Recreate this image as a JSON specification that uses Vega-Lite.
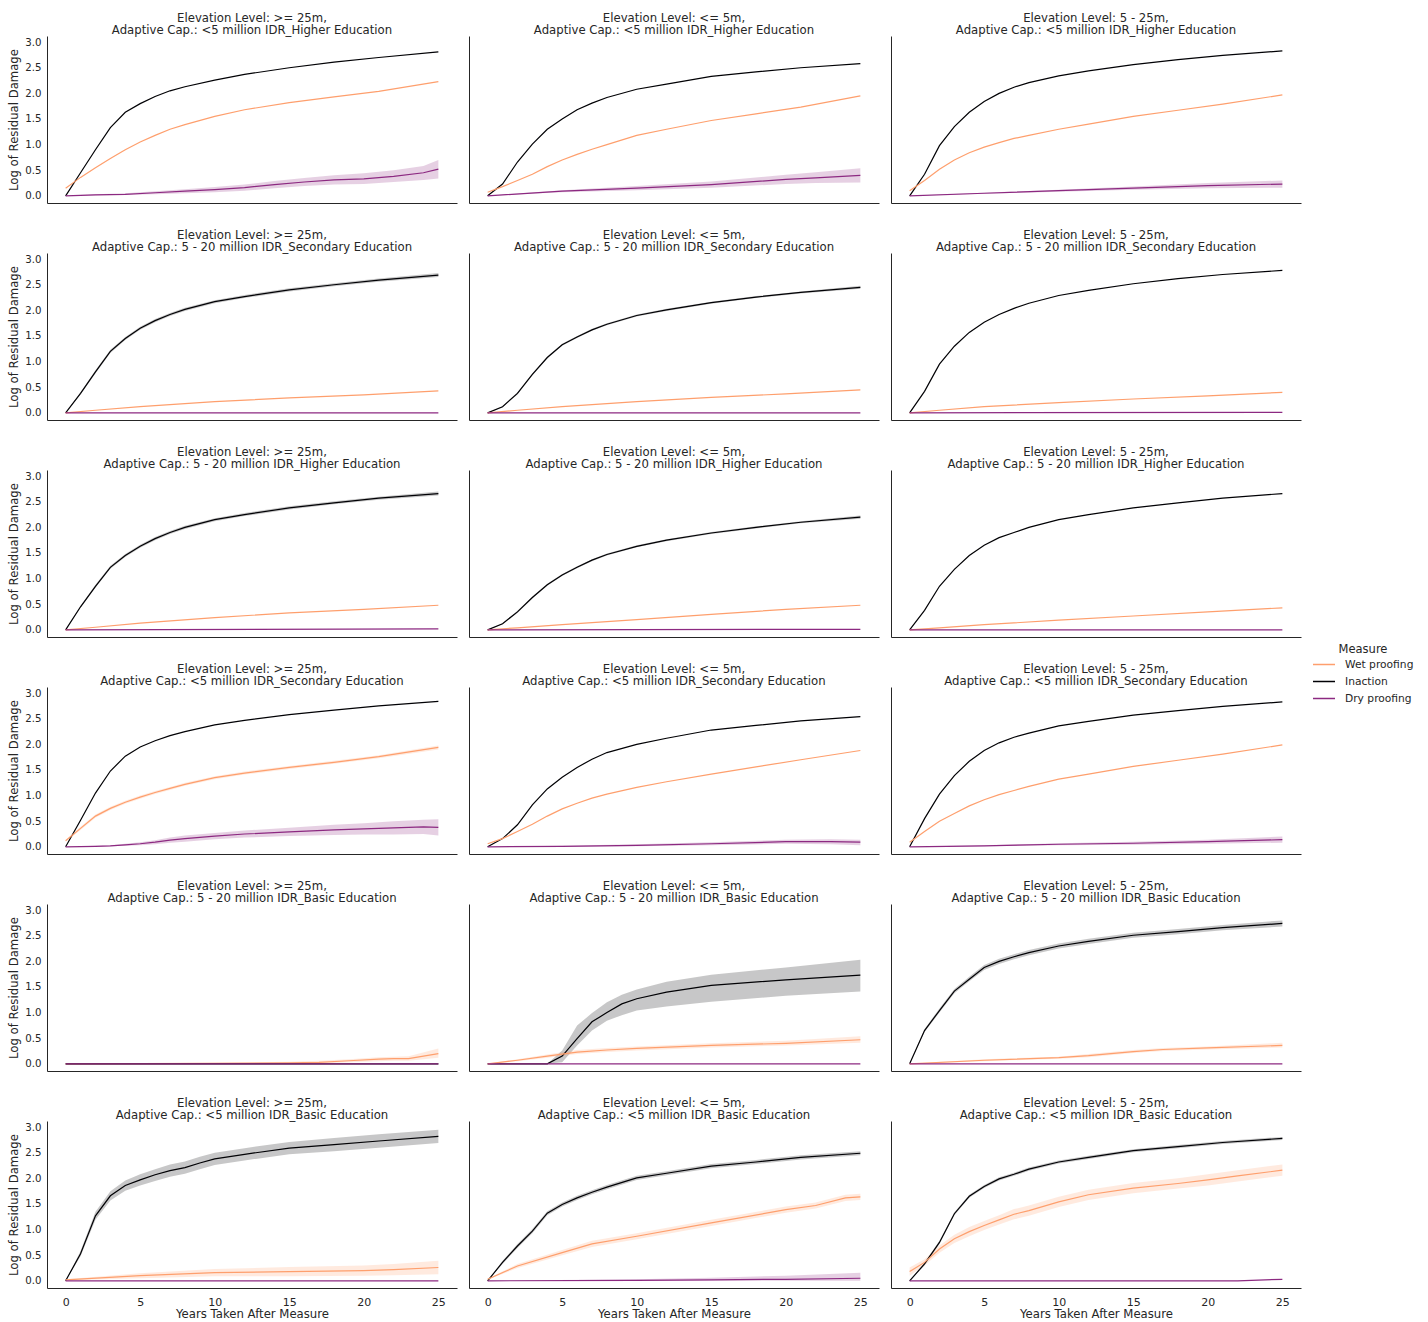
{
"$schema": "https://vega.github.io/schema/vega-lite/v6.json",
"padding": {"left": 8, "top": 12, "right": 5, "bottom": 5},
"background": "white",
"datasets": {"d": [
{"p":0,"m":"I","x":0,"y":0},{"p":0,"m":"I","x":1,"y":0.45},{"p":0,"m":"I","x":2,"y":0.9},{"p":0,"m":"I","x":3,"y":1.33},{"p":0,"m":"I","x":4,"y":1.63},{"p":0,"m":"I","x":5,"y":1.8},{"p":0,"m":"I","x":6,"y":1.94},{"p":0,"m":"I","x":7,"y":2.05},{"p":0,"m":"I","x":8,"y":2.13},{"p":0,"m":"I","x":10,"y":2.26},{"p":0,"m":"I","x":12,"y":2.37},{"p":0,"m":"I","x":15,"y":2.5},{"p":0,"m":"I","x":18,"y":2.61},{"p":0,"m":"I","x":21,"y":2.7},{"p":0,"m":"I","x":25,"y":2.81},
{"p":0,"m":"W","x":0,"y":0.15},{"p":0,"m":"W","x":1,"y":0.36},{"p":0,"m":"W","x":2,"y":0.55},{"p":0,"m":"W","x":3,"y":0.73},{"p":0,"m":"W","x":4,"y":0.9},{"p":0,"m":"W","x":5,"y":1.05},{"p":0,"m":"W","x":6,"y":1.18},{"p":0,"m":"W","x":7,"y":1.3},{"p":0,"m":"W","x":8,"y":1.39},{"p":0,"m":"W","x":10,"y":1.55},{"p":0,"m":"W","x":12,"y":1.68},{"p":0,"m":"W","x":15,"y":1.82},{"p":0,"m":"W","x":18,"y":1.93},{"p":0,"m":"W","x":21,"y":2.04},{"p":0,"m":"W","x":25,"y":2.23},
{"p":0,"m":"D","x":0,"y":0,"lo":0,"hi":0},{"p":0,"m":"D","x":2,"y":0.02,"lo":0.01,"hi":0.03},{"p":0,"m":"D","x":4,"y":0.03,"lo":0.02,"hi":0.05},{"p":0,"m":"D","x":6,"y":0.06,"lo":0.03,"hi":0.09},{"p":0,"m":"D","x":8,"y":0.09,"lo":0.05,"hi":0.13},{"p":0,"m":"D","x":10,"y":0.12,"lo":0.07,"hi":0.17},{"p":0,"m":"D","x":12,"y":0.16,"lo":0.1,"hi":0.22},{"p":0,"m":"D","x":14,"y":0.22,"lo":0.15,"hi":0.29},{"p":0,"m":"D","x":16,"y":0.27,"lo":0.19,"hi":0.35},{"p":0,"m":"D","x":18,"y":0.31,"lo":0.22,"hi":0.4},{"p":0,"m":"D","x":20,"y":0.33,"lo":0.23,"hi":0.44},{"p":0,"m":"D","x":22,"y":0.38,"lo":0.27,"hi":0.5},{"p":0,"m":"D","x":24,"y":0.45,"lo":0.31,"hi":0.58},{"p":0,"m":"D","x":25,"y":0.52,"lo":0.34,"hi":0.7},

{"p":1,"m":"I","x":0,"y":0},{"p":1,"m":"I","x":1,"y":0.23},{"p":1,"m":"I","x":2,"y":0.66},{"p":1,"m":"I","x":3,"y":1.01},{"p":1,"m":"I","x":4,"y":1.3},{"p":1,"m":"I","x":5,"y":1.5},{"p":1,"m":"I","x":6,"y":1.68},{"p":1,"m":"I","x":7,"y":1.81},{"p":1,"m":"I","x":8,"y":1.92},{"p":1,"m":"I","x":10,"y":2.08},{"p":1,"m":"I","x":12,"y":2.18},{"p":1,"m":"I","x":15,"y":2.33},{"p":1,"m":"I","x":18,"y":2.42},{"p":1,"m":"I","x":21,"y":2.5},{"p":1,"m":"I","x":25,"y":2.58},
{"p":1,"m":"W","x":0,"y":0.07},{"p":1,"m":"W","x":1,"y":0.18},{"p":1,"m":"W","x":2,"y":0.3},{"p":1,"m":"W","x":3,"y":0.42},{"p":1,"m":"W","x":4,"y":0.57},{"p":1,"m":"W","x":5,"y":0.7},{"p":1,"m":"W","x":6,"y":0.81},{"p":1,"m":"W","x":7,"y":0.91},{"p":1,"m":"W","x":8,"y":1.0},{"p":1,"m":"W","x":10,"y":1.18},{"p":1,"m":"W","x":12,"y":1.3},{"p":1,"m":"W","x":15,"y":1.47},{"p":1,"m":"W","x":18,"y":1.6},{"p":1,"m":"W","x":21,"y":1.73},{"p":1,"m":"W","x":25,"y":1.95},
{"p":1,"m":"D","x":0,"y":0,"lo":0,"hi":0},{"p":1,"m":"D","x":5,"y":0.09,"lo":0.07,"hi":0.11},{"p":1,"m":"D","x":10,"y":0.15,"lo":0.11,"hi":0.19},{"p":1,"m":"D","x":15,"y":0.22,"lo":0.16,"hi":0.28},{"p":1,"m":"D","x":20,"y":0.32,"lo":0.23,"hi":0.41},{"p":1,"m":"D","x":22,"y":0.35,"lo":0.25,"hi":0.46},{"p":1,"m":"D","x":25,"y":0.4,"lo":0.26,"hi":0.54},

{"p":2,"m":"I","x":0,"y":0},{"p":2,"m":"I","x":1,"y":0.42},{"p":2,"m":"I","x":2,"y":0.98},{"p":2,"m":"I","x":3,"y":1.35},{"p":2,"m":"I","x":4,"y":1.63},{"p":2,"m":"I","x":5,"y":1.84},{"p":2,"m":"I","x":6,"y":2.0},{"p":2,"m":"I","x":7,"y":2.12},{"p":2,"m":"I","x":8,"y":2.21},{"p":2,"m":"I","x":10,"y":2.34},{"p":2,"m":"I","x":12,"y":2.44},{"p":2,"m":"I","x":15,"y":2.56},{"p":2,"m":"I","x":18,"y":2.66},{"p":2,"m":"I","x":21,"y":2.74},{"p":2,"m":"I","x":25,"y":2.83},
{"p":2,"m":"W","x":0,"y":0.1},{"p":2,"m":"W","x":1,"y":0.3},{"p":2,"m":"W","x":2,"y":0.52},{"p":2,"m":"W","x":3,"y":0.7},{"p":2,"m":"W","x":4,"y":0.84},{"p":2,"m":"W","x":5,"y":0.95},{"p":2,"m":"W","x":6,"y":1.04},{"p":2,"m":"W","x":7,"y":1.12},{"p":2,"m":"W","x":8,"y":1.18},{"p":2,"m":"W","x":10,"y":1.3},{"p":2,"m":"W","x":12,"y":1.4},{"p":2,"m":"W","x":15,"y":1.55},{"p":2,"m":"W","x":18,"y":1.67},{"p":2,"m":"W","x":21,"y":1.79},{"p":2,"m":"W","x":25,"y":1.97},
{"p":2,"m":"D","x":0,"y":0,"lo":0,"hi":0},{"p":2,"m":"D","x":5,"y":0.05,"lo":0.04,"hi":0.06},{"p":2,"m":"D","x":10,"y":0.1,"lo":0.08,"hi":0.12},{"p":2,"m":"D","x":15,"y":0.15,"lo":0.12,"hi":0.18},{"p":2,"m":"D","x":20,"y":0.2,"lo":0.15,"hi":0.25},{"p":2,"m":"D","x":25,"y":0.23,"lo":0.16,"hi":0.3},

{"p":3,"m":"I","x":0,"y":0,"lo":0,"hi":0},{"p":3,"m":"I","x":1,"y":0.38,"lo":0.36,"hi":0.4},{"p":3,"m":"I","x":2,"y":0.8,"lo":0.77,"hi":0.83},{"p":3,"m":"I","x":3,"y":1.2,"lo":1.17,"hi":1.23},{"p":3,"m":"I","x":4,"y":1.45,"lo":1.42,"hi":1.48},{"p":3,"m":"I","x":5,"y":1.65,"lo":1.62,"hi":1.68},{"p":3,"m":"I","x":6,"y":1.8,"lo":1.77,"hi":1.83},{"p":3,"m":"I","x":7,"y":1.92,"lo":1.89,"hi":1.95},{"p":3,"m":"I","x":8,"y":2.02,"lo":1.99,"hi":2.05},{"p":3,"m":"I","x":10,"y":2.17,"lo":2.14,"hi":2.2},{"p":3,"m":"I","x":12,"y":2.27,"lo":2.24,"hi":2.3},{"p":3,"m":"I","x":15,"y":2.4,"lo":2.37,"hi":2.43},{"p":3,"m":"I","x":18,"y":2.5,"lo":2.47,"hi":2.53},{"p":3,"m":"I","x":21,"y":2.59,"lo":2.56,"hi":2.62},{"p":3,"m":"I","x":25,"y":2.69,"lo":2.65,"hi":2.73},
{"p":3,"m":"W","x":0,"y":0},{"p":3,"m":"W","x":2,"y":0.05},{"p":3,"m":"W","x":5,"y":0.12},{"p":3,"m":"W","x":10,"y":0.22},{"p":3,"m":"W","x":15,"y":0.29},{"p":3,"m":"W","x":20,"y":0.35},{"p":3,"m":"W","x":25,"y":0.43},
{"p":3,"m":"D","x":0,"y":0},{"p":3,"m":"D","x":25,"y":0},

{"p":4,"m":"I","x":0,"y":0,"lo":0,"hi":0},{"p":4,"m":"I","x":1,"y":0.12,"lo":0.11,"hi":0.13},{"p":4,"m":"I","x":2,"y":0.38,"lo":0.36,"hi":0.4},{"p":4,"m":"I","x":3,"y":0.75,"lo":0.73,"hi":0.77},{"p":4,"m":"I","x":4,"y":1.08,"lo":1.06,"hi":1.1},{"p":4,"m":"I","x":5,"y":1.33,"lo":1.31,"hi":1.35},{"p":4,"m":"I","x":6,"y":1.48,"lo":1.46,"hi":1.5},{"p":4,"m":"I","x":7,"y":1.62,"lo":1.6,"hi":1.64},{"p":4,"m":"I","x":8,"y":1.73,"lo":1.71,"hi":1.75},{"p":4,"m":"I","x":10,"y":1.9,"lo":1.88,"hi":1.92},{"p":4,"m":"I","x":12,"y":2.01,"lo":1.99,"hi":2.03},{"p":4,"m":"I","x":15,"y":2.15,"lo":2.13,"hi":2.17},{"p":4,"m":"I","x":18,"y":2.26,"lo":2.24,"hi":2.28},{"p":4,"m":"I","x":21,"y":2.35,"lo":2.33,"hi":2.37},{"p":4,"m":"I","x":25,"y":2.45,"lo":2.42,"hi":2.48},
{"p":4,"m":"W","x":0,"y":0},{"p":4,"m":"W","x":2,"y":0.05},{"p":4,"m":"W","x":5,"y":0.12},{"p":4,"m":"W","x":10,"y":0.22},{"p":4,"m":"W","x":15,"y":0.3},{"p":4,"m":"W","x":20,"y":0.37},{"p":4,"m":"W","x":25,"y":0.45},
{"p":4,"m":"D","x":0,"y":0},{"p":4,"m":"D","x":25,"y":0},

{"p":5,"m":"I","x":0,"y":0},{"p":5,"m":"I","x":1,"y":0.42},{"p":5,"m":"I","x":2,"y":0.95},{"p":5,"m":"I","x":3,"y":1.3},{"p":5,"m":"I","x":4,"y":1.57},{"p":5,"m":"I","x":5,"y":1.77},{"p":5,"m":"I","x":6,"y":1.92},{"p":5,"m":"I","x":7,"y":2.04},{"p":5,"m":"I","x":8,"y":2.14},{"p":5,"m":"I","x":10,"y":2.29},{"p":5,"m":"I","x":12,"y":2.39},{"p":5,"m":"I","x":15,"y":2.52},{"p":5,"m":"I","x":18,"y":2.62},{"p":5,"m":"I","x":21,"y":2.7},{"p":5,"m":"I","x":25,"y":2.78},
{"p":5,"m":"W","x":0,"y":0},{"p":5,"m":"W","x":2,"y":0.05},{"p":5,"m":"W","x":5,"y":0.12},{"p":5,"m":"W","x":10,"y":0.2},{"p":5,"m":"W","x":15,"y":0.27},{"p":5,"m":"W","x":20,"y":0.33},{"p":5,"m":"W","x":25,"y":0.4},
{"p":5,"m":"D","x":0,"y":0},{"p":5,"m":"D","x":25,"y":0.01},

{"p":6,"m":"I","x":0,"y":0,"lo":0,"hi":0},{"p":6,"m":"I","x":1,"y":0.45,"lo":0.43,"hi":0.47},{"p":6,"m":"I","x":2,"y":0.85,"lo":0.82,"hi":0.88},{"p":6,"m":"I","x":3,"y":1.22,"lo":1.19,"hi":1.25},{"p":6,"m":"I","x":4,"y":1.45,"lo":1.42,"hi":1.48},{"p":6,"m":"I","x":5,"y":1.63,"lo":1.6,"hi":1.66},{"p":6,"m":"I","x":6,"y":1.78,"lo":1.75,"hi":1.81},{"p":6,"m":"I","x":7,"y":1.9,"lo":1.87,"hi":1.93},{"p":6,"m":"I","x":8,"y":2.0,"lo":1.97,"hi":2.03},{"p":6,"m":"I","x":10,"y":2.15,"lo":2.12,"hi":2.18},{"p":6,"m":"I","x":12,"y":2.25,"lo":2.22,"hi":2.28},{"p":6,"m":"I","x":15,"y":2.38,"lo":2.35,"hi":2.41},{"p":6,"m":"I","x":18,"y":2.48,"lo":2.45,"hi":2.51},{"p":6,"m":"I","x":21,"y":2.57,"lo":2.54,"hi":2.6},{"p":6,"m":"I","x":25,"y":2.66,"lo":2.62,"hi":2.7},
{"p":6,"m":"W","x":0,"y":0},{"p":6,"m":"W","x":2,"y":0.05},{"p":6,"m":"W","x":5,"y":0.13},{"p":6,"m":"W","x":10,"y":0.24},{"p":6,"m":"W","x":15,"y":0.33},{"p":6,"m":"W","x":20,"y":0.4},{"p":6,"m":"W","x":25,"y":0.48},
{"p":6,"m":"D","x":0,"y":0},{"p":6,"m":"D","x":25,"y":0.02},

{"p":7,"m":"I","x":0,"y":0,"lo":0,"hi":0},{"p":7,"m":"I","x":1,"y":0.12,"lo":0.11,"hi":0.13},{"p":7,"m":"I","x":2,"y":0.35,"lo":0.33,"hi":0.37},{"p":7,"m":"I","x":3,"y":0.63,"lo":0.61,"hi":0.65},{"p":7,"m":"I","x":4,"y":0.88,"lo":0.86,"hi":0.9},{"p":7,"m":"I","x":5,"y":1.07,"lo":1.05,"hi":1.09},{"p":7,"m":"I","x":6,"y":1.22,"lo":1.2,"hi":1.24},{"p":7,"m":"I","x":7,"y":1.36,"lo":1.34,"hi":1.38},{"p":7,"m":"I","x":8,"y":1.47,"lo":1.45,"hi":1.49},{"p":7,"m":"I","x":10,"y":1.63,"lo":1.61,"hi":1.65},{"p":7,"m":"I","x":12,"y":1.75,"lo":1.73,"hi":1.77},{"p":7,"m":"I","x":15,"y":1.89,"lo":1.87,"hi":1.91},{"p":7,"m":"I","x":18,"y":2.0,"lo":1.98,"hi":2.02},{"p":7,"m":"I","x":21,"y":2.1,"lo":2.08,"hi":2.12},{"p":7,"m":"I","x":25,"y":2.2,"lo":2.17,"hi":2.23},
{"p":7,"m":"W","x":0,"y":0},{"p":7,"m":"W","x":2,"y":0.04},{"p":7,"m":"W","x":5,"y":0.1},{"p":7,"m":"W","x":10,"y":0.2},{"p":7,"m":"W","x":15,"y":0.3},{"p":7,"m":"W","x":20,"y":0.4},{"p":7,"m":"W","x":25,"y":0.48},
{"p":7,"m":"D","x":0,"y":0},{"p":7,"m":"D","x":25,"y":0.01},

{"p":8,"m":"I","x":0,"y":0},{"p":8,"m":"I","x":1,"y":0.38},{"p":8,"m":"I","x":2,"y":0.85},{"p":8,"m":"I","x":3,"y":1.18},{"p":8,"m":"I","x":4,"y":1.45},{"p":8,"m":"I","x":5,"y":1.65},{"p":8,"m":"I","x":6,"y":1.8},{"p":8,"m":"I","x":7,"y":1.9},{"p":8,"m":"I","x":8,"y":2.0},{"p":8,"m":"I","x":10,"y":2.15},{"p":8,"m":"I","x":12,"y":2.25},{"p":8,"m":"I","x":15,"y":2.38},{"p":8,"m":"I","x":18,"y":2.48},{"p":8,"m":"I","x":21,"y":2.57},{"p":8,"m":"I","x":25,"y":2.66},
{"p":8,"m":"W","x":0,"y":0},{"p":8,"m":"W","x":2,"y":0.04},{"p":8,"m":"W","x":5,"y":0.1},{"p":8,"m":"W","x":10,"y":0.19},{"p":8,"m":"W","x":15,"y":0.27},{"p":8,"m":"W","x":20,"y":0.35},{"p":8,"m":"W","x":25,"y":0.43},
{"p":8,"m":"D","x":0,"y":0},{"p":8,"m":"D","x":25,"y":0},

{"p":9,"m":"I","x":0,"y":0},{"p":9,"m":"I","x":1,"y":0.52},{"p":9,"m":"I","x":2,"y":1.05},{"p":9,"m":"I","x":3,"y":1.48},{"p":9,"m":"I","x":4,"y":1.77},{"p":9,"m":"I","x":5,"y":1.95},{"p":9,"m":"I","x":6,"y":2.07},{"p":9,"m":"I","x":7,"y":2.17},{"p":9,"m":"I","x":8,"y":2.25},{"p":9,"m":"I","x":10,"y":2.38},{"p":9,"m":"I","x":12,"y":2.47},{"p":9,"m":"I","x":15,"y":2.58},{"p":9,"m":"I","x":18,"y":2.67},{"p":9,"m":"I","x":21,"y":2.75},{"p":9,"m":"I","x":25,"y":2.84},
{"p":9,"m":"W","x":0,"y":0.12,"lo":0.1,"hi":0.14},{"p":9,"m":"W","x":1,"y":0.36,"lo":0.33,"hi":0.39},{"p":9,"m":"W","x":2,"y":0.6,"lo":0.57,"hi":0.63},{"p":9,"m":"W","x":3,"y":0.75,"lo":0.72,"hi":0.78},{"p":9,"m":"W","x":4,"y":0.87,"lo":0.84,"hi":0.9},{"p":9,"m":"W","x":5,"y":0.97,"lo":0.94,"hi":1.0},{"p":9,"m":"W","x":6,"y":1.06,"lo":1.03,"hi":1.09},{"p":9,"m":"W","x":7,"y":1.14,"lo":1.11,"hi":1.17},{"p":9,"m":"W","x":8,"y":1.22,"lo":1.19,"hi":1.25},{"p":9,"m":"W","x":10,"y":1.35,"lo":1.32,"hi":1.38},{"p":9,"m":"W","x":12,"y":1.44,"lo":1.41,"hi":1.47},{"p":9,"m":"W","x":15,"y":1.55,"lo":1.52,"hi":1.58},{"p":9,"m":"W","x":18,"y":1.65,"lo":1.62,"hi":1.68},{"p":9,"m":"W","x":21,"y":1.76,"lo":1.73,"hi":1.79},{"p":9,"m":"W","x":25,"y":1.94,"lo":1.9,"hi":1.98},
{"p":9,"m":"D","x":0,"y":0,"lo":0,"hi":0},{"p":9,"m":"D","x":2,"y":0.01,"lo":0,"hi":0.02},{"p":9,"m":"D","x":3,"y":0.02,"lo":0.01,"hi":0.03},{"p":9,"m":"D","x":4,"y":0.04,"lo":0.02,"hi":0.06},{"p":9,"m":"D","x":5,"y":0.06,"lo":0.03,"hi":0.09},{"p":9,"m":"D","x":6,"y":0.09,"lo":0.05,"hi":0.13},{"p":9,"m":"D","x":7,"y":0.13,"lo":0.08,"hi":0.18},{"p":9,"m":"D","x":8,"y":0.16,"lo":0.1,"hi":0.22},{"p":9,"m":"D","x":10,"y":0.21,"lo":0.15,"hi":0.27},{"p":9,"m":"D","x":12,"y":0.25,"lo":0.18,"hi":0.32},{"p":9,"m":"D","x":15,"y":0.29,"lo":0.21,"hi":0.37},{"p":9,"m":"D","x":18,"y":0.33,"lo":0.23,"hi":0.43},{"p":9,"m":"D","x":20,"y":0.35,"lo":0.24,"hi":0.46},{"p":9,"m":"D","x":22,"y":0.37,"lo":0.24,"hi":0.5},{"p":9,"m":"D","x":24,"y":0.39,"lo":0.25,"hi":0.53},{"p":9,"m":"D","x":25,"y":0.38,"lo":0.22,"hi":0.54},

{"p":10,"m":"I","x":0,"y":0},{"p":10,"m":"I","x":1,"y":0.16},{"p":10,"m":"I","x":2,"y":0.43},{"p":10,"m":"I","x":3,"y":0.82},{"p":10,"m":"I","x":4,"y":1.13},{"p":10,"m":"I","x":5,"y":1.36},{"p":10,"m":"I","x":6,"y":1.55},{"p":10,"m":"I","x":7,"y":1.71},{"p":10,"m":"I","x":8,"y":1.84},{"p":10,"m":"I","x":10,"y":2.0},{"p":10,"m":"I","x":12,"y":2.12},{"p":10,"m":"I","x":15,"y":2.28},{"p":10,"m":"I","x":18,"y":2.37},{"p":10,"m":"I","x":21,"y":2.46},{"p":10,"m":"I","x":25,"y":2.54},
{"p":10,"m":"W","x":0,"y":0.06},{"p":10,"m":"W","x":1,"y":0.16},{"p":10,"m":"W","x":2,"y":0.3},{"p":10,"m":"W","x":3,"y":0.44},{"p":10,"m":"W","x":4,"y":0.6},{"p":10,"m":"W","x":5,"y":0.74},{"p":10,"m":"W","x":6,"y":0.85},{"p":10,"m":"W","x":7,"y":0.95},{"p":10,"m":"W","x":8,"y":1.03},{"p":10,"m":"W","x":10,"y":1.16},{"p":10,"m":"W","x":12,"y":1.27},{"p":10,"m":"W","x":15,"y":1.42},{"p":10,"m":"W","x":18,"y":1.56},{"p":10,"m":"W","x":21,"y":1.7},{"p":10,"m":"W","x":25,"y":1.88},
{"p":10,"m":"D","x":0,"y":0,"lo":0,"hi":0},{"p":10,"m":"D","x":5,"y":0.01,"lo":0,"hi":0.02},{"p":10,"m":"D","x":10,"y":0.03,"lo":0.01,"hi":0.05},{"p":10,"m":"D","x":15,"y":0.06,"lo":0.03,"hi":0.09},{"p":10,"m":"D","x":20,"y":0.1,"lo":0.06,"hi":0.14},{"p":10,"m":"D","x":23,"y":0.1,"lo":0.05,"hi":0.15},{"p":10,"m":"D","x":25,"y":0.09,"lo":0.03,"hi":0.14},

{"p":11,"m":"I","x":0,"y":0},{"p":11,"m":"I","x":1,"y":0.55},{"p":11,"m":"I","x":2,"y":1.03},{"p":11,"m":"I","x":3,"y":1.39},{"p":11,"m":"I","x":4,"y":1.67},{"p":11,"m":"I","x":5,"y":1.88},{"p":11,"m":"I","x":6,"y":2.03},{"p":11,"m":"I","x":7,"y":2.14},{"p":11,"m":"I","x":8,"y":2.22},{"p":11,"m":"I","x":10,"y":2.36},{"p":11,"m":"I","x":12,"y":2.45},{"p":11,"m":"I","x":15,"y":2.57},{"p":11,"m":"I","x":18,"y":2.66},{"p":11,"m":"I","x":21,"y":2.74},{"p":11,"m":"I","x":25,"y":2.83},
{"p":11,"m":"W","x":0,"y":0.09},{"p":11,"m":"W","x":1,"y":0.3},{"p":11,"m":"W","x":2,"y":0.5},{"p":11,"m":"W","x":3,"y":0.65},{"p":11,"m":"W","x":4,"y":0.8},{"p":11,"m":"W","x":5,"y":0.92},{"p":11,"m":"W","x":6,"y":1.02},{"p":11,"m":"W","x":7,"y":1.1},{"p":11,"m":"W","x":8,"y":1.18},{"p":11,"m":"W","x":10,"y":1.32},{"p":11,"m":"W","x":12,"y":1.42},{"p":11,"m":"W","x":15,"y":1.57},{"p":11,"m":"W","x":18,"y":1.69},{"p":11,"m":"W","x":21,"y":1.81},{"p":11,"m":"W","x":25,"y":1.99},
{"p":11,"m":"D","x":0,"y":0,"lo":0,"hi":0},{"p":11,"m":"D","x":5,"y":0.02,"lo":0.01,"hi":0.03},{"p":11,"m":"D","x":10,"y":0.05,"lo":0.03,"hi":0.07},{"p":11,"m":"D","x":15,"y":0.07,"lo":0.04,"hi":0.1},{"p":11,"m":"D","x":20,"y":0.1,"lo":0.06,"hi":0.14},{"p":11,"m":"D","x":25,"y":0.14,"lo":0.08,"hi":0.2},

{"p":12,"m":"W","x":0,"y":0,"lo":0,"hi":0},{"p":12,"m":"W","x":10,"y":0.01,"lo":0,"hi":0.02},{"p":12,"m":"W","x":15,"y":0.02,"lo":0,"hi":0.04},{"p":12,"m":"W","x":17,"y":0.03,"lo":0.01,"hi":0.06},{"p":12,"m":"W","x":19,"y":0.06,"lo":0.03,"hi":0.09},{"p":12,"m":"W","x":21,"y":0.09,"lo":0.05,"hi":0.13},{"p":12,"m":"W","x":22,"y":0.1,"lo":0.06,"hi":0.14},{"p":12,"m":"W","x":23,"y":0.1,"lo":0.06,"hi":0.15},{"p":12,"m":"W","x":25,"y":0.2,"lo":0.12,"hi":0.3},
{"p":12,"m":"I","x":0,"y":0},{"p":12,"m":"I","x":25,"y":0},
{"p":12,"m":"D","x":0,"y":0},{"p":12,"m":"D","x":25,"y":0},

{"p":13,"m":"I","x":0,"y":0,"lo":0,"hi":0},{"p":13,"m":"I","x":4,"y":0,"lo":0,"hi":0},{"p":13,"m":"I","x":5,"y":0.15,"lo":0.03,"hi":0.26},{"p":13,"m":"I","x":6,"y":0.49,"lo":0.36,"hi":0.75},{"p":13,"m":"I","x":7,"y":0.82,"lo":0.65,"hi":0.99},{"p":13,"m":"I","x":8,"y":1.0,"lo":0.84,"hi":1.2},{"p":13,"m":"I","x":9,"y":1.17,"lo":0.95,"hi":1.35},{"p":13,"m":"I","x":10,"y":1.27,"lo":1.04,"hi":1.45},{"p":13,"m":"I","x":12,"y":1.4,"lo":1.12,"hi":1.6},{"p":13,"m":"I","x":15,"y":1.53,"lo":1.21,"hi":1.74},{"p":13,"m":"I","x":20,"y":1.64,"lo":1.33,"hi":1.88},{"p":13,"m":"I","x":25,"y":1.73,"lo":1.41,"hi":2.03},
{"p":13,"m":"W","x":0,"y":0,"lo":0,"hi":0},{"p":13,"m":"W","x":2,"y":0.07,"lo":0.05,"hi":0.09},{"p":13,"m":"W","x":4,"y":0.15,"lo":0.12,"hi":0.18},{"p":13,"m":"W","x":6,"y":0.23,"lo":0.19,"hi":0.27},{"p":13,"m":"W","x":8,"y":0.27,"lo":0.23,"hi":0.31},{"p":13,"m":"W","x":10,"y":0.3,"lo":0.26,"hi":0.34},{"p":13,"m":"W","x":15,"y":0.36,"lo":0.32,"hi":0.4},{"p":13,"m":"W","x":20,"y":0.4,"lo":0.36,"hi":0.45},{"p":13,"m":"W","x":25,"y":0.47,"lo":0.41,"hi":0.54},
{"p":13,"m":"D","x":0,"y":0},{"p":13,"m":"D","x":25,"y":0},

{"p":14,"m":"I","x":0,"y":0,"lo":0,"hi":0},{"p":14,"m":"I","x":1,"y":0.65,"lo":0.62,"hi":0.68},{"p":14,"m":"I","x":2,"y":1.04,"lo":1.0,"hi":1.08},{"p":14,"m":"I","x":3,"y":1.42,"lo":1.38,"hi":1.46},{"p":14,"m":"I","x":4,"y":1.65,"lo":1.61,"hi":1.7},{"p":14,"m":"I","x":5,"y":1.88,"lo":1.83,"hi":1.93},{"p":14,"m":"I","x":6,"y":2.0,"lo":1.95,"hi":2.05},{"p":14,"m":"I","x":7,"y":2.09,"lo":2.04,"hi":2.14},{"p":14,"m":"I","x":8,"y":2.17,"lo":2.12,"hi":2.22},{"p":14,"m":"I","x":10,"y":2.3,"lo":2.25,"hi":2.35},{"p":14,"m":"I","x":12,"y":2.39,"lo":2.34,"hi":2.44},{"p":14,"m":"I","x":15,"y":2.51,"lo":2.46,"hi":2.56},{"p":14,"m":"I","x":18,"y":2.58,"lo":2.53,"hi":2.63},{"p":14,"m":"I","x":21,"y":2.66,"lo":2.61,"hi":2.71},{"p":14,"m":"I","x":25,"y":2.74,"lo":2.68,"hi":2.8},
{"p":14,"m":"W","x":0,"y":0,"lo":0,"hi":0},{"p":14,"m":"W","x":5,"y":0.07,"lo":0.05,"hi":0.09},{"p":14,"m":"W","x":10,"y":0.12,"lo":0.1,"hi":0.14},{"p":14,"m":"W","x":12,"y":0.16,"lo":0.13,"hi":0.19},{"p":14,"m":"W","x":15,"y":0.24,"lo":0.21,"hi":0.27},{"p":14,"m":"W","x":17,"y":0.28,"lo":0.25,"hi":0.31},{"p":14,"m":"W","x":20,"y":0.31,"lo":0.28,"hi":0.34},{"p":14,"m":"W","x":25,"y":0.36,"lo":0.32,"hi":0.41},
{"p":14,"m":"D","x":0,"y":0},{"p":14,"m":"D","x":25,"y":0},

{"p":15,"m":"I","x":0,"y":0,"lo":0,"hi":0},{"p":15,"m":"I","x":1,"y":0.53,"lo":0.48,"hi":0.58},{"p":15,"m":"I","x":2,"y":1.27,"lo":1.19,"hi":1.35},{"p":15,"m":"I","x":3,"y":1.66,"lo":1.57,"hi":1.75},{"p":15,"m":"I","x":4,"y":1.86,"lo":1.76,"hi":1.96},{"p":15,"m":"I","x":5,"y":1.97,"lo":1.86,"hi":2.08},{"p":15,"m":"I","x":6,"y":2.07,"lo":1.95,"hi":2.18},{"p":15,"m":"I","x":7,"y":2.15,"lo":2.03,"hi":2.27},{"p":15,"m":"I","x":8,"y":2.21,"lo":2.09,"hi":2.33},{"p":15,"m":"I","x":9,"y":2.3,"lo":2.18,"hi":2.42},{"p":15,"m":"I","x":10,"y":2.38,"lo":2.26,"hi":2.5},{"p":15,"m":"I","x":12,"y":2.47,"lo":2.35,"hi":2.59},{"p":15,"m":"I","x":15,"y":2.59,"lo":2.47,"hi":2.71},{"p":15,"m":"I","x":18,"y":2.66,"lo":2.53,"hi":2.79},{"p":15,"m":"I","x":21,"y":2.73,"lo":2.6,"hi":2.86},{"p":15,"m":"I","x":25,"y":2.82,"lo":2.69,"hi":2.95},
{"p":15,"m":"W","x":0,"y":0.02,"lo":0.01,"hi":0.03},{"p":15,"m":"W","x":5,"y":0.1,"lo":0.05,"hi":0.15},{"p":15,"m":"W","x":10,"y":0.16,"lo":0.09,"hi":0.23},{"p":15,"m":"W","x":15,"y":0.18,"lo":0.09,"hi":0.27},{"p":15,"m":"W","x":20,"y":0.2,"lo":0.1,"hi":0.3},{"p":15,"m":"W","x":22,"y":0.22,"lo":0.11,"hi":0.33},{"p":15,"m":"W","x":25,"y":0.26,"lo":0.13,"hi":0.39},
{"p":15,"m":"D","x":0,"y":0},{"p":15,"m":"D","x":25,"y":0},

{"p":16,"m":"I","x":0,"y":0,"lo":0,"hi":0},{"p":16,"m":"I","x":1,"y":0.36,"lo":0.33,"hi":0.39},{"p":16,"m":"I","x":2,"y":0.68,"lo":0.64,"hi":0.72},{"p":16,"m":"I","x":3,"y":0.97,"lo":0.93,"hi":1.01},{"p":16,"m":"I","x":4,"y":1.32,"lo":1.28,"hi":1.36},{"p":16,"m":"I","x":5,"y":1.49,"lo":1.45,"hi":1.53},{"p":16,"m":"I","x":6,"y":1.62,"lo":1.58,"hi":1.66},{"p":16,"m":"I","x":7,"y":1.73,"lo":1.69,"hi":1.77},{"p":16,"m":"I","x":8,"y":1.83,"lo":1.79,"hi":1.87},{"p":16,"m":"I","x":10,"y":2.01,"lo":1.97,"hi":2.05},{"p":16,"m":"I","x":12,"y":2.1,"lo":2.06,"hi":2.14},{"p":16,"m":"I","x":15,"y":2.24,"lo":2.2,"hi":2.28},{"p":16,"m":"I","x":18,"y":2.32,"lo":2.28,"hi":2.36},{"p":16,"m":"I","x":21,"y":2.41,"lo":2.37,"hi":2.45},{"p":16,"m":"I","x":25,"y":2.49,"lo":2.45,"hi":2.53},
{"p":16,"m":"W","x":0,"y":0.03,"lo":0.02,"hi":0.04},{"p":16,"m":"W","x":2,"y":0.29,"lo":0.25,"hi":0.33},{"p":16,"m":"W","x":5,"y":0.55,"lo":0.5,"hi":0.6},{"p":16,"m":"W","x":7,"y":0.72,"lo":0.66,"hi":0.78},{"p":16,"m":"W","x":10,"y":0.87,"lo":0.81,"hi":0.93},{"p":16,"m":"W","x":15,"y":1.13,"lo":1.07,"hi":1.19},{"p":16,"m":"W","x":20,"y":1.39,"lo":1.33,"hi":1.45},{"p":16,"m":"W","x":22,"y":1.47,"lo":1.41,"hi":1.53},{"p":16,"m":"W","x":24,"y":1.62,"lo":1.56,"hi":1.68},{"p":16,"m":"W","x":25,"y":1.64,"lo":1.58,"hi":1.7},
{"p":16,"m":"D","x":0,"y":0,"lo":0,"hi":0},{"p":16,"m":"D","x":10,"y":0.01,"lo":0,"hi":0.03},{"p":16,"m":"D","x":15,"y":0.02,"lo":0,"hi":0.06},{"p":16,"m":"D","x":20,"y":0.03,"lo":0,"hi":0.1},{"p":16,"m":"D","x":25,"y":0.05,"lo":0,"hi":0.16},

{"p":17,"m":"I","x":0,"y":0,"lo":0,"hi":0},{"p":17,"m":"I","x":1,"y":0.33,"lo":0.3,"hi":0.36},{"p":17,"m":"I","x":2,"y":0.75,"lo":0.72,"hi":0.78},{"p":17,"m":"I","x":3,"y":1.31,"lo":1.28,"hi":1.34},{"p":17,"m":"I","x":4,"y":1.65,"lo":1.62,"hi":1.68},{"p":17,"m":"I","x":5,"y":1.84,"lo":1.81,"hi":1.87},{"p":17,"m":"I","x":6,"y":1.99,"lo":1.96,"hi":2.02},{"p":17,"m":"I","x":7,"y":2.08,"lo":2.05,"hi":2.11},{"p":17,"m":"I","x":8,"y":2.18,"lo":2.15,"hi":2.21},{"p":17,"m":"I","x":10,"y":2.32,"lo":2.29,"hi":2.35},{"p":17,"m":"I","x":12,"y":2.41,"lo":2.38,"hi":2.44},{"p":17,"m":"I","x":15,"y":2.54,"lo":2.51,"hi":2.57},{"p":17,"m":"I","x":18,"y":2.62,"lo":2.59,"hi":2.65},{"p":17,"m":"I","x":21,"y":2.7,"lo":2.67,"hi":2.73},{"p":17,"m":"I","x":25,"y":2.78,"lo":2.75,"hi":2.81},
{"p":17,"m":"W","x":0,"y":0.18,"lo":0.1,"hi":0.26},{"p":17,"m":"W","x":1,"y":0.36,"lo":0.3,"hi":0.42},{"p":17,"m":"W","x":2,"y":0.62,"lo":0.55,"hi":0.69},{"p":17,"m":"W","x":3,"y":0.82,"lo":0.74,"hi":0.9},{"p":17,"m":"W","x":4,"y":0.96,"lo":0.87,"hi":1.05},{"p":17,"m":"W","x":5,"y":1.08,"lo":0.99,"hi":1.17},{"p":17,"m":"W","x":6,"y":1.19,"lo":1.1,"hi":1.28},{"p":17,"m":"W","x":7,"y":1.3,"lo":1.2,"hi":1.4},{"p":17,"m":"W","x":8,"y":1.37,"lo":1.27,"hi":1.47},{"p":17,"m":"W","x":10,"y":1.54,"lo":1.44,"hi":1.64},{"p":17,"m":"W","x":12,"y":1.68,"lo":1.58,"hi":1.78},{"p":17,"m":"W","x":15,"y":1.81,"lo":1.71,"hi":1.91},{"p":17,"m":"W","x":18,"y":1.9,"lo":1.8,"hi":2.0},{"p":17,"m":"W","x":20,"y":1.97,"lo":1.86,"hi":2.08},{"p":17,"m":"W","x":22,"y":2.05,"lo":1.94,"hi":2.16},{"p":17,"m":"W","x":25,"y":2.16,"lo":2.05,"hi":2.27},
{"p":17,"m":"D","x":0,"y":0},{"p":17,"m":"D","x":22,"y":0},{"p":17,"m":"D","x":25,"y":0.03}
]},
"data": {"name": "d"},
"columns": 3,
"spacing": {"column": 12, "row": 26},
"concat": [
{"title":{"text":["Elevation Level: >= 25m,","Adaptive Cap.: <5 million IDR_Higher Education"]},"width":410,"height":167,"transform":[{"filter":"datum.p==0"}],
 "encoding":{"x":{"field":"x","type":"quantitative","scale":{"domain":[-1.25,26.25],"nice":false,"zero":false},"axis":{"labels":false,"title":null}},
  "color":{"field":"m","type":"nominal","scale":{"domain":["W","I","D"],"range":["#fe9f6d","#000004","#8c2981"]},"legend":{"title":"Measure","orient":"none","legendX":1265,"legendY":608,"labelExpr":"datum.label == 'W' ? 'Wet proofing' : datum.label == 'I' ? 'Inaction' : 'Dry proofing'"}}},
 "layer":[{"transform":[{"filter":"isValid(datum.lo)"}],"mark":{"type":"area","opacity":0.22},"encoding":{"y":{"field":"lo","type":"quantitative","scale":{"domain":[-0.14,3.12],"nice":false,"zero":false},"axis":{"values":[0,0.5,1,1.5,2,2.5,3],"format":".1f","title":"Log of Residual Damage"}},"y2":{"field":"hi"}}},
  {"mark":{"type":"line","strokeWidth":1.2},"encoding":{"y":{"field":"y","type":"quantitative","scale":{"domain":[-0.14,3.12],"nice":false,"zero":false},"axis":{"values":[0,0.5,1,1.5,2,2.5,3],"format":".1f","title":"Log of Residual Damage"}}}}]},
{"title":{"text":["Elevation Level: <= 5m,","Adaptive Cap.: <5 million IDR_Higher Education"]},"width":410,"height":167,"transform":[{"filter":"datum.p==1"}],
 "encoding":{"x":{"field":"x","type":"quantitative","scale":{"domain":[-1.25,26.25],"nice":false,"zero":false},"axis":{"labels":false,"title":null}},
  "color":{"field":"m","type":"nominal","scale":{"domain":["W","I","D"],"range":["#fe9f6d","#000004","#8c2981"]},"legend":{"title":"Measure","orient":"none","legendX":1265,"legendY":608,"labelExpr":"datum.label == 'W' ? 'Wet proofing' : datum.label == 'I' ? 'Inaction' : 'Dry proofing'"}}},
 "layer":[{"transform":[{"filter":"isValid(datum.lo)"}],"mark":{"type":"area","opacity":0.22},"encoding":{"y":{"field":"lo","type":"quantitative","scale":{"domain":[-0.14,3.12],"nice":false,"zero":false},"axis":{"labels":false,"title":null}},"y2":{"field":"hi"}}},
  {"mark":{"type":"line","strokeWidth":1.2},"encoding":{"y":{"field":"y","type":"quantitative","scale":{"domain":[-0.14,3.12],"nice":false,"zero":false},"axis":{"labels":false,"title":null}}}}]},
{"title":{"text":["Elevation Level: 5 - 25m,","Adaptive Cap.: <5 million IDR_Higher Education"]},"width":410,"height":167,"transform":[{"filter":"datum.p==2"}],
 "encoding":{"x":{"field":"x","type":"quantitative","scale":{"domain":[-1.25,26.25],"nice":false,"zero":false},"axis":{"labels":false,"title":null}},
  "color":{"field":"m","type":"nominal","scale":{"domain":["W","I","D"],"range":["#fe9f6d","#000004","#8c2981"]},"legend":{"title":"Measure","orient":"none","legendX":1265,"legendY":608,"labelExpr":"datum.label == 'W' ? 'Wet proofing' : datum.label == 'I' ? 'Inaction' : 'Dry proofing'"}}},
 "layer":[{"transform":[{"filter":"isValid(datum.lo)"}],"mark":{"type":"area","opacity":0.22},"encoding":{"y":{"field":"lo","type":"quantitative","scale":{"domain":[-0.14,3.12],"nice":false,"zero":false},"axis":{"labels":false,"title":null}},"y2":{"field":"hi"}}},
  {"mark":{"type":"line","strokeWidth":1.2},"encoding":{"y":{"field":"y","type":"quantitative","scale":{"domain":[-0.14,3.12],"nice":false,"zero":false},"axis":{"labels":false,"title":null}}}}]},

{"title":{"text":["Elevation Level: >= 25m,","Adaptive Cap.: 5 - 20 million IDR_Secondary Education"]},"width":410,"height":167,"transform":[{"filter":"datum.p==3"}],
 "encoding":{"x":{"field":"x","type":"quantitative","scale":{"domain":[-1.25,26.25],"nice":false,"zero":false},"axis":{"labels":false,"title":null}},
  "color":{"field":"m","type":"nominal","scale":{"domain":["W","I","D"],"range":["#fe9f6d","#000004","#8c2981"]},"legend":{"title":"Measure","orient":"none","legendX":1265,"legendY":608,"labelExpr":"datum.label == 'W' ? 'Wet proofing' : datum.label == 'I' ? 'Inaction' : 'Dry proofing'"}}},
 "layer":[{"transform":[{"filter":"isValid(datum.lo)"}],"mark":{"type":"area","opacity":0.22},"encoding":{"y":{"field":"lo","type":"quantitative","scale":{"domain":[-0.14,3.12],"nice":false,"zero":false},"axis":{"values":[0,0.5,1,1.5,2,2.5,3],"format":".1f","title":"Log of Residual Damage"}},"y2":{"field":"hi"}}},
  {"mark":{"type":"line","strokeWidth":1.2},"encoding":{"y":{"field":"y","type":"quantitative","scale":{"domain":[-0.14,3.12],"nice":false,"zero":false},"axis":{"values":[0,0.5,1,1.5,2,2.5,3],"format":".1f","title":"Log of Residual Damage"}}}}]},
{"title":{"text":["Elevation Level: <= 5m,","Adaptive Cap.: 5 - 20 million IDR_Secondary Education"]},"width":410,"height":167,"transform":[{"filter":"datum.p==4"}],
 "encoding":{"x":{"field":"x","type":"quantitative","scale":{"domain":[-1.25,26.25],"nice":false,"zero":false},"axis":{"labels":false,"title":null}},
  "color":{"field":"m","type":"nominal","scale":{"domain":["W","I","D"],"range":["#fe9f6d","#000004","#8c2981"]},"legend":{"title":"Measure","orient":"none","legendX":1265,"legendY":608,"labelExpr":"datum.label == 'W' ? 'Wet proofing' : datum.label == 'I' ? 'Inaction' : 'Dry proofing'"}}},
 "layer":[{"transform":[{"filter":"isValid(datum.lo)"}],"mark":{"type":"area","opacity":0.22},"encoding":{"y":{"field":"lo","type":"quantitative","scale":{"domain":[-0.14,3.12],"nice":false,"zero":false},"axis":{"labels":false,"title":null}},"y2":{"field":"hi"}}},
  {"mark":{"type":"line","strokeWidth":1.2},"encoding":{"y":{"field":"y","type":"quantitative","scale":{"domain":[-0.14,3.12],"nice":false,"zero":false},"axis":{"labels":false,"title":null}}}}]},
{"title":{"text":["Elevation Level: 5 - 25m,","Adaptive Cap.: 5 - 20 million IDR_Secondary Education"]},"width":410,"height":167,"transform":[{"filter":"datum.p==5"}],
 "encoding":{"x":{"field":"x","type":"quantitative","scale":{"domain":[-1.25,26.25],"nice":false,"zero":false},"axis":{"labels":false,"title":null}},
  "color":{"field":"m","type":"nominal","scale":{"domain":["W","I","D"],"range":["#fe9f6d","#000004","#8c2981"]},"legend":{"title":"Measure","orient":"none","legendX":1265,"legendY":608,"labelExpr":"datum.label == 'W' ? 'Wet proofing' : datum.label == 'I' ? 'Inaction' : 'Dry proofing'"}}},
 "layer":[{"transform":[{"filter":"isValid(datum.lo)"}],"mark":{"type":"area","opacity":0.22},"encoding":{"y":{"field":"lo","type":"quantitative","scale":{"domain":[-0.14,3.12],"nice":false,"zero":false},"axis":{"labels":false,"title":null}},"y2":{"field":"hi"}}},
  {"mark":{"type":"line","strokeWidth":1.2},"encoding":{"y":{"field":"y","type":"quantitative","scale":{"domain":[-0.14,3.12],"nice":false,"zero":false},"axis":{"labels":false,"title":null}}}}]},

{"title":{"text":["Elevation Level: >= 25m,","Adaptive Cap.: 5 - 20 million IDR_Higher Education"]},"width":410,"height":167,"transform":[{"filter":"datum.p==6"}],
 "encoding":{"x":{"field":"x","type":"quantitative","scale":{"domain":[-1.25,26.25],"nice":false,"zero":false},"axis":{"labels":false,"title":null}},
  "color":{"field":"m","type":"nominal","scale":{"domain":["W","I","D"],"range":["#fe9f6d","#000004","#8c2981"]},"legend":{"title":"Measure","orient":"none","legendX":1265,"legendY":608,"labelExpr":"datum.label == 'W' ? 'Wet proofing' : datum.label == 'I' ? 'Inaction' : 'Dry proofing'"}}},
 "layer":[{"transform":[{"filter":"isValid(datum.lo)"}],"mark":{"type":"area","opacity":0.22},"encoding":{"y":{"field":"lo","type":"quantitative","scale":{"domain":[-0.14,3.12],"nice":false,"zero":false},"axis":{"values":[0,0.5,1,1.5,2,2.5,3],"format":".1f","title":"Log of Residual Damage"}},"y2":{"field":"hi"}}},
  {"mark":{"type":"line","strokeWidth":1.2},"encoding":{"y":{"field":"y","type":"quantitative","scale":{"domain":[-0.14,3.12],"nice":false,"zero":false},"axis":{"values":[0,0.5,1,1.5,2,2.5,3],"format":".1f","title":"Log of Residual Damage"}}}}]},
{"title":{"text":["Elevation Level: <= 5m,","Adaptive Cap.: 5 - 20 million IDR_Higher Education"]},"width":410,"height":167,"transform":[{"filter":"datum.p==7"}],
 "encoding":{"x":{"field":"x","type":"quantitative","scale":{"domain":[-1.25,26.25],"nice":false,"zero":false},"axis":{"labels":false,"title":null}},
  "color":{"field":"m","type":"nominal","scale":{"domain":["W","I","D"],"range":["#fe9f6d","#000004","#8c2981"]},"legend":{"title":"Measure","orient":"none","legendX":1265,"legendY":608,"labelExpr":"datum.label == 'W' ? 'Wet proofing' : datum.label == 'I' ? 'Inaction' : 'Dry proofing'"}}},
 "layer":[{"transform":[{"filter":"isValid(datum.lo)"}],"mark":{"type":"area","opacity":0.22},"encoding":{"y":{"field":"lo","type":"quantitative","scale":{"domain":[-0.14,3.12],"nice":false,"zero":false},"axis":{"labels":false,"title":null}},"y2":{"field":"hi"}}},
  {"mark":{"type":"line","strokeWidth":1.2},"encoding":{"y":{"field":"y","type":"quantitative","scale":{"domain":[-0.14,3.12],"nice":false,"zero":false},"axis":{"labels":false,"title":null}}}}]},
{"title":{"text":["Elevation Level: 5 - 25m,","Adaptive Cap.: 5 - 20 million IDR_Higher Education"]},"width":410,"height":167,"transform":[{"filter":"datum.p==8"}],
 "encoding":{"x":{"field":"x","type":"quantitative","scale":{"domain":[-1.25,26.25],"nice":false,"zero":false},"axis":{"labels":false,"title":null}},
  "color":{"field":"m","type":"nominal","scale":{"domain":["W","I","D"],"range":["#fe9f6d","#000004","#8c2981"]},"legend":{"title":"Measure","orient":"none","legendX":1265,"legendY":608,"labelExpr":"datum.label == 'W' ? 'Wet proofing' : datum.label == 'I' ? 'Inaction' : 'Dry proofing'"}}},
 "layer":[{"transform":[{"filter":"isValid(datum.lo)"}],"mark":{"type":"area","opacity":0.22},"encoding":{"y":{"field":"lo","type":"quantitative","scale":{"domain":[-0.14,3.12],"nice":false,"zero":false},"axis":{"labels":false,"title":null}},"y2":{"field":"hi"}}},
  {"mark":{"type":"line","strokeWidth":1.2},"encoding":{"y":{"field":"y","type":"quantitative","scale":{"domain":[-0.14,3.12],"nice":false,"zero":false},"axis":{"labels":false,"title":null}}}}]},

{"title":{"text":["Elevation Level: >= 25m,","Adaptive Cap.: <5 million IDR_Secondary Education"]},"width":410,"height":167,"transform":[{"filter":"datum.p==9"}],
 "encoding":{"x":{"field":"x","type":"quantitative","scale":{"domain":[-1.25,26.25],"nice":false,"zero":false},"axis":{"labels":false,"title":null}},
  "color":{"field":"m","type":"nominal","scale":{"domain":["W","I","D"],"range":["#fe9f6d","#000004","#8c2981"]},"legend":{"title":"Measure","orient":"none","legendX":1265,"legendY":608,"labelExpr":"datum.label == 'W' ? 'Wet proofing' : datum.label == 'I' ? 'Inaction' : 'Dry proofing'"}}},
 "layer":[{"transform":[{"filter":"isValid(datum.lo)"}],"mark":{"type":"area","opacity":0.22},"encoding":{"y":{"field":"lo","type":"quantitative","scale":{"domain":[-0.14,3.12],"nice":false,"zero":false},"axis":{"values":[0,0.5,1,1.5,2,2.5,3],"format":".1f","title":"Log of Residual Damage"}},"y2":{"field":"hi"}}},
  {"mark":{"type":"line","strokeWidth":1.2},"encoding":{"y":{"field":"y","type":"quantitative","scale":{"domain":[-0.14,3.12],"nice":false,"zero":false},"axis":{"values":[0,0.5,1,1.5,2,2.5,3],"format":".1f","title":"Log of Residual Damage"}}}}]},
{"title":{"text":["Elevation Level: <= 5m,","Adaptive Cap.: <5 million IDR_Secondary Education"]},"width":410,"height":167,"transform":[{"filter":"datum.p==10"}],
 "encoding":{"x":{"field":"x","type":"quantitative","scale":{"domain":[-1.25,26.25],"nice":false,"zero":false},"axis":{"labels":false,"title":null}},
  "color":{"field":"m","type":"nominal","scale":{"domain":["W","I","D"],"range":["#fe9f6d","#000004","#8c2981"]},"legend":{"title":"Measure","orient":"none","legendX":1265,"legendY":608,"labelExpr":"datum.label == 'W' ? 'Wet proofing' : datum.label == 'I' ? 'Inaction' : 'Dry proofing'"}}},
 "layer":[{"transform":[{"filter":"isValid(datum.lo)"}],"mark":{"type":"area","opacity":0.22},"encoding":{"y":{"field":"lo","type":"quantitative","scale":{"domain":[-0.14,3.12],"nice":false,"zero":false},"axis":{"labels":false,"title":null}},"y2":{"field":"hi"}}},
  {"mark":{"type":"line","strokeWidth":1.2},"encoding":{"y":{"field":"y","type":"quantitative","scale":{"domain":[-0.14,3.12],"nice":false,"zero":false},"axis":{"labels":false,"title":null}}}}]},
{"title":{"text":["Elevation Level: 5 - 25m,","Adaptive Cap.: <5 million IDR_Secondary Education"]},"width":410,"height":167,"transform":[{"filter":"datum.p==11"}],
 "encoding":{"x":{"field":"x","type":"quantitative","scale":{"domain":[-1.25,26.25],"nice":false,"zero":false},"axis":{"labels":false,"title":null}},
  "color":{"field":"m","type":"nominal","scale":{"domain":["W","I","D"],"range":["#fe9f6d","#000004","#8c2981"]},"legend":{"title":"Measure","orient":"none","legendX":1265,"legendY":608,"labelExpr":"datum.label == 'W' ? 'Wet proofing' : datum.label == 'I' ? 'Inaction' : 'Dry proofing'"}}},
 "layer":[{"transform":[{"filter":"isValid(datum.lo)"}],"mark":{"type":"area","opacity":0.22},"encoding":{"y":{"field":"lo","type":"quantitative","scale":{"domain":[-0.14,3.12],"nice":false,"zero":false},"axis":{"labels":false,"title":null}},"y2":{"field":"hi"}}},
  {"mark":{"type":"line","strokeWidth":1.2},"encoding":{"y":{"field":"y","type":"quantitative","scale":{"domain":[-0.14,3.12],"nice":false,"zero":false},"axis":{"labels":false,"title":null}}}}]},

{"title":{"text":["Elevation Level: >= 25m,","Adaptive Cap.: 5 - 20 million IDR_Basic Education"]},"width":410,"height":167,"transform":[{"filter":"datum.p==12"}],
 "encoding":{"x":{"field":"x","type":"quantitative","scale":{"domain":[-1.25,26.25],"nice":false,"zero":false},"axis":{"labels":false,"title":null}},
  "color":{"field":"m","type":"nominal","scale":{"domain":["W","I","D"],"range":["#fe9f6d","#000004","#8c2981"]},"legend":{"title":"Measure","orient":"none","legendX":1265,"legendY":608,"labelExpr":"datum.label == 'W' ? 'Wet proofing' : datum.label == 'I' ? 'Inaction' : 'Dry proofing'"}}},
 "layer":[{"transform":[{"filter":"isValid(datum.lo)"}],"mark":{"type":"area","opacity":0.22},"encoding":{"y":{"field":"lo","type":"quantitative","scale":{"domain":[-0.14,3.12],"nice":false,"zero":false},"axis":{"values":[0,0.5,1,1.5,2,2.5,3],"format":".1f","title":"Log of Residual Damage"}},"y2":{"field":"hi"}}},
  {"mark":{"type":"line","strokeWidth":1.2},"encoding":{"y":{"field":"y","type":"quantitative","scale":{"domain":[-0.14,3.12],"nice":false,"zero":false},"axis":{"values":[0,0.5,1,1.5,2,2.5,3],"format":".1f","title":"Log of Residual Damage"}}}}]},
{"title":{"text":["Elevation Level: <= 5m,","Adaptive Cap.: 5 - 20 million IDR_Basic Education"]},"width":410,"height":167,"transform":[{"filter":"datum.p==13"}],
 "encoding":{"x":{"field":"x","type":"quantitative","scale":{"domain":[-1.25,26.25],"nice":false,"zero":false},"axis":{"labels":false,"title":null}},
  "color":{"field":"m","type":"nominal","scale":{"domain":["W","I","D"],"range":["#fe9f6d","#000004","#8c2981"]},"legend":{"title":"Measure","orient":"none","legendX":1265,"legendY":608,"labelExpr":"datum.label == 'W' ? 'Wet proofing' : datum.label == 'I' ? 'Inaction' : 'Dry proofing'"}}},
 "layer":[{"transform":[{"filter":"isValid(datum.lo)"}],"mark":{"type":"area","opacity":0.22},"encoding":{"y":{"field":"lo","type":"quantitative","scale":{"domain":[-0.14,3.12],"nice":false,"zero":false},"axis":{"labels":false,"title":null}},"y2":{"field":"hi"}}},
  {"mark":{"type":"line","strokeWidth":1.2},"encoding":{"y":{"field":"y","type":"quantitative","scale":{"domain":[-0.14,3.12],"nice":false,"zero":false},"axis":{"labels":false,"title":null}}}}]},
{"title":{"text":["Elevation Level: 5 - 25m,","Adaptive Cap.: 5 - 20 million IDR_Basic Education"]},"width":410,"height":167,"transform":[{"filter":"datum.p==14"}],
 "encoding":{"x":{"field":"x","type":"quantitative","scale":{"domain":[-1.25,26.25],"nice":false,"zero":false},"axis":{"labels":false,"title":null}},
  "color":{"field":"m","type":"nominal","scale":{"domain":["W","I","D"],"range":["#fe9f6d","#000004","#8c2981"]},"legend":{"title":"Measure","orient":"none","legendX":1265,"legendY":608,"labelExpr":"datum.label == 'W' ? 'Wet proofing' : datum.label == 'I' ? 'Inaction' : 'Dry proofing'"}}},
 "layer":[{"transform":[{"filter":"isValid(datum.lo)"}],"mark":{"type":"area","opacity":0.22},"encoding":{"y":{"field":"lo","type":"quantitative","scale":{"domain":[-0.14,3.12],"nice":false,"zero":false},"axis":{"labels":false,"title":null}},"y2":{"field":"hi"}}},
  {"mark":{"type":"line","strokeWidth":1.2},"encoding":{"y":{"field":"y","type":"quantitative","scale":{"domain":[-0.14,3.12],"nice":false,"zero":false},"axis":{"labels":false,"title":null}}}}]},

{"title":{"text":["Elevation Level: >= 25m,","Adaptive Cap.: <5 million IDR_Basic Education"]},"width":410,"height":167,"transform":[{"filter":"datum.p==15"}],
 "encoding":{"x":{"field":"x","type":"quantitative","scale":{"domain":[-1.25,26.25],"nice":false,"zero":false},"axis":{"values":[0,5,10,15,20,25],"title":"Years Taken After Measure"}},
  "color":{"field":"m","type":"nominal","scale":{"domain":["W","I","D"],"range":["#fe9f6d","#000004","#8c2981"]},"legend":{"title":"Measure","orient":"none","legendX":1265,"legendY":608,"labelExpr":"datum.label == 'W' ? 'Wet proofing' : datum.label == 'I' ? 'Inaction' : 'Dry proofing'"}}},
 "layer":[{"transform":[{"filter":"isValid(datum.lo)"}],"mark":{"type":"area","opacity":0.22},"encoding":{"y":{"field":"lo","type":"quantitative","scale":{"domain":[-0.14,3.12],"nice":false,"zero":false},"axis":{"values":[0,0.5,1,1.5,2,2.5,3],"format":".1f","title":"Log of Residual Damage"}},"y2":{"field":"hi"}}},
  {"mark":{"type":"line","strokeWidth":1.2},"encoding":{"y":{"field":"y","type":"quantitative","scale":{"domain":[-0.14,3.12],"nice":false,"zero":false},"axis":{"values":[0,0.5,1,1.5,2,2.5,3],"format":".1f","title":"Log of Residual Damage"}}}}]},
{"title":{"text":["Elevation Level: <= 5m,","Adaptive Cap.: <5 million IDR_Basic Education"]},"width":410,"height":167,"transform":[{"filter":"datum.p==16"}],
 "encoding":{"x":{"field":"x","type":"quantitative","scale":{"domain":[-1.25,26.25],"nice":false,"zero":false},"axis":{"values":[0,5,10,15,20,25],"title":"Years Taken After Measure"}},
  "color":{"field":"m","type":"nominal","scale":{"domain":["W","I","D"],"range":["#fe9f6d","#000004","#8c2981"]},"legend":{"title":"Measure","orient":"none","legendX":1265,"legendY":608,"labelExpr":"datum.label == 'W' ? 'Wet proofing' : datum.label == 'I' ? 'Inaction' : 'Dry proofing'"}}},
 "layer":[{"transform":[{"filter":"isValid(datum.lo)"}],"mark":{"type":"area","opacity":0.22},"encoding":{"y":{"field":"lo","type":"quantitative","scale":{"domain":[-0.14,3.12],"nice":false,"zero":false},"axis":{"labels":false,"title":null}},"y2":{"field":"hi"}}},
  {"mark":{"type":"line","strokeWidth":1.2},"encoding":{"y":{"field":"y","type":"quantitative","scale":{"domain":[-0.14,3.12],"nice":false,"zero":false},"axis":{"labels":false,"title":null}}}}]},
{"title":{"text":["Elevation Level: 5 - 25m,","Adaptive Cap.: <5 million IDR_Basic Education"]},"width":410,"height":167,"transform":[{"filter":"datum.p==17"}],
 "encoding":{"x":{"field":"x","type":"quantitative","scale":{"domain":[-1.25,26.25],"nice":false,"zero":false},"axis":{"values":[0,5,10,15,20,25],"title":"Years Taken After Measure"}},
  "color":{"field":"m","type":"nominal","scale":{"domain":["W","I","D"],"range":["#fe9f6d","#000004","#8c2981"]},"legend":{"title":"Measure","orient":"none","legendX":1265,"legendY":608,"labelExpr":"datum.label == 'W' ? 'Wet proofing' : datum.label == 'I' ? 'Inaction' : 'Dry proofing'"}}},
 "layer":[{"transform":[{"filter":"isValid(datum.lo)"}],"mark":{"type":"area","opacity":0.22},"encoding":{"y":{"field":"lo","type":"quantitative","scale":{"domain":[-0.14,3.12],"nice":false,"zero":false},"axis":{"labels":false,"title":null}},"y2":{"field":"hi"}}},
  {"mark":{"type":"line","strokeWidth":1.2},"encoding":{"y":{"field":"y","type":"quantitative","scale":{"domain":[-0.14,3.12],"nice":false,"zero":false},"axis":{"labels":false,"title":null}}}}]}
],
"config": {
 "font": "DejaVu Sans",
 "view": {"stroke": null},
 "axis": {"grid": false, "ticks": false, "domainColor": "#262626", "domainWidth": 1, "labelFont": "DejaVu Sans", "labelFontSize": 11, "labelColor": "#262626", "titleFont": "DejaVu Sans", "titleFontSize": 11.7, "titleFontWeight": "normal", "titleColor": "#262626"},
 "axisX": {"labelPadding": 8, "titlePadding": 1},
 "axisY": {"labelPadding": 6, "titlePadding": 5, "labelFontSize": 10.2},
 "title": {"font": "DejaVu Sans", "fontSize": 11.7, "fontWeight": "normal", "color": "#262626", "anchor": "middle", "frame": "group", "offset": -1, "lineHeight": 12.5},
 "legend": {"titleFont": "DejaVu Sans", "titleFontSize": 11.5, "titleFontWeight": "normal", "titleColor": "#262626", "titleAnchor": "middle", "labelFont": "DejaVu Sans", "labelFontSize": 10.7, "labelColor": "#262626", "labelOffset": 9, "symbolType": "stroke", "symbolStrokeWidth": 1.5, "symbolSize": 484, "symbolOpacity": 1, "rowPadding": -7, "titlePadding": -3}
}
}
